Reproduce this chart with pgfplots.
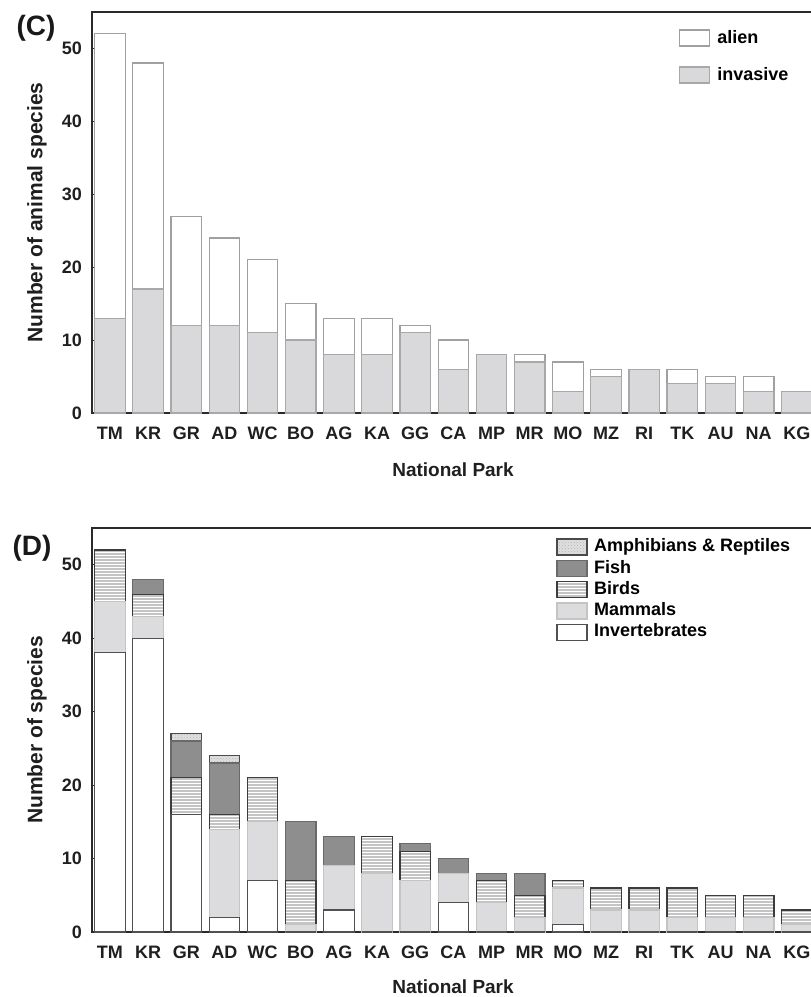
\documentclass[border=0pt]{standalone}
\usepackage{fontspec}
\setmainfont{Liberation Sans}
\usepackage{pgfplots}
\pgfplotsset{compat=1.18}
\usepackage{pgfplotstable}
\usetikzlibrary{patterns}

\definecolor{axisc}{HTML}{2A2A2A}
\definecolor{alienedge}{HTML}{A0A0A0}
\definecolor{invfill}{HTML}{D9D9DC}
\definecolor{invedge}{HTML}{A8A8A8}
\definecolor{invertedge}{HTML}{505050}
\definecolor{mamfill}{HTML}{DCDCDE}
\definecolor{mamedge}{HTML}{C4C4C4}
\definecolor{birdfill}{HTML}{C4C4C4}
\definecolor{birdedge}{HTML}{3C3C3C}
\definecolor{fishfill}{HTML}{8E8E8E}
\definecolor{fishedge}{HTML}{6A6A6A}
\definecolor{amphfill}{HTML}{E0E0E0}
\definecolor{amphedge}{HTML}{4A4A4A}

% Panel C: total alien and invasive animal species
\pgfplotstableread{
idx name alien invasive
0  TM 52 13
1  KR 48 17
2  GR 27 12
3  AD 24 12
4  WC 21 11
5  BO 15 10
6  AG 13 8
7  KA 13 8
8  GG 12 11
9  CA 10 6
10 MP 8 8
11 MR 8 7
12 MO 7 3
13 MZ 6 5
14 RI 6 6
15 TK 6 4
16 AU 5 4
17 NA 5 3
18 KG 3 3
}\tabC

% Panel D: species per group (Invertebrates, Mammals, Birds, Fish, Amphibians & Reptiles)
\pgfplotstableread{
idx name I M B F A
0  TM 38 7 7 0 0
1  KR 40 3 3 2 0
2  GR 16 0 5 5 1
3  AD 2 12 2 7 1
4  WC 7 8 6 0 0
5  BO 0 1 6 8 0
6  AG 3 6 0 4 0
7  KA 0 8 5 0 0
8  GG 0 7 4 1 0
9  CA 4 4 0 2 0
10 MP 0 4 3 1 0
11 MR 0 2 3 3 0
12 MO 1 5 1 0 0
13 MZ 0 3 3 0 0
14 RI 0 3 3 0 0
15 TK 0 2 4 0 0
16 AU 0 2 3 0 0
17 NA 0 2 3 0 0
18 KG 0 1 2 0 0
}\tabD

\pgfplotsset{
  panel/.style={
    scale only axis,
    width=722pt,
    xmin=-0.47, xmax=18.45,
    ymin=0, ymax=55,
    ytick={0,10,20,30,40,50},
    xtick={0,...,18},
    xticklabels={TM,KR,GR,AD,WC,BO,AG,KA,GG,CA,MP,MR,MO,MZ,RI,TK,AU,NA,KG},
    xtick pos=bottom, ytick pos=left,
    tick align=inside,
    major tick length=5pt,
    tick style={line width=1pt, color=axisc},
    axis line style={line width=1.3pt, color=axisc},
    /pgf/number format/assume math mode=true,
    tick label style={font=\bfseries\fontsize{18}{20}\selectfont, text=black!88, inner sep=0pt},
    xticklabel style={anchor=north, yshift=-14pt},
    yticklabel style={anchor=east, xshift=-10pt},
    legend cell align=left,
    legend image code/.code={\draw[##1] (0pt,-8pt) rectangle (30pt,8pt);},
    clip=false,
  },
  bars/.style={ybar, bar width=0.8, bar shift=0pt, line width=1.2pt},
}

\begin{document}
\begin{tikzpicture}
\useasboundingbox (-92pt,-65pt) rectangle (719pt,932pt);

% ---------------- Panel C ----------------
\begin{axis}[panel,
  at={(0pt,519pt)}, anchor=south west,
  height=401pt,
  ylabel={Number of animal species},
  xlabel={National Park},
  every axis y label/.style={at={(axis description cs:-0.0762,0.5)}, rotate=90, anchor=center,
    font=\bfseries\fontsize{21}{24}\selectfont, text=black!88},
  every axis x label/.style={at={(axis description cs:0.5,-0.141)}, anchor=center,
    font=\bfseries\fontsize{19}{22}\selectfont, text=black!88},
  legend style={at={(rel axis cs:0.813,0.958)}, anchor=north west, draw=none, fill=none,
    font=\bfseries\fontsize{18}{20}\selectfont, row sep=19pt, inner sep=0pt,
    nodes={inner sep=1pt, text height=13pt, text depth=3pt},
    /tikz/every even column/.append style={column sep=0pt}},
]
\addplot[bars, fill=white, draw=alienedge] table[x=idx, y=alien] {\tabC};
\addlegendentry{\hspace{6pt}alien}
\addplot[bars, fill=invfill, draw=invedge] table[x=idx, y=invasive] {\tabC};
\addlegendentry{\hspace{6pt}invasive}
\end{axis}
\node[font=\bfseries\fontsize{28}{30}\selectfont, text=black!90] at (-56pt,904pt) {(C)};

% ---------------- Panel D ----------------
\begin{axis}[panel,
  at={(0pt,0pt)}, anchor=south west,
  height=404pt,
  ylabel={Number of species},
  xlabel={National Park},
  every axis y label/.style={at={(axis description cs:-0.0762,0.5)}, rotate=90, anchor=center,
    font=\bfseries\fontsize{21}{24}\selectfont, text=black!88},
  every axis x label/.style={at={(axis description cs:0.5,-0.136)}, anchor=center,
    font=\bfseries\fontsize{19}{22}\selectfont, text=black!88},
  legend style={at={(rel axis cs:0.643,0.975)}, anchor=north west, draw=none, fill=none,
    font=\bfseries\fontsize{18}{20}\selectfont, row sep=3.8pt, inner sep=0pt,
    nodes={inner sep=0.5pt, text height=13pt, text depth=3.5pt},
    /tikz/every even column/.append style={column sep=0pt}},
]
% drawn back to front: cumulative heights from the group counts
\addplot[bars, fill=amphfill, draw=amphedge,
  postaction={pattern=crosshatch dots, pattern color=black!30}]
  table[x=idx, y expr=\thisrow{I}+\thisrow{M}+\thisrow{B}+\thisrow{F}+\thisrow{A}] {\tabD};
\addlegendentry{\hspace{6pt}Amphibians \& Reptiles}
\addplot[bars, fill=fishfill, draw=fishedge]
  table[x=idx, y expr=\thisrow{I}+\thisrow{M}+\thisrow{B}+\thisrow{F}] {\tabD};
\addlegendentry{\hspace{6pt}Fish}
\addplot[bars, fill=birdfill, draw=birdedge,
  postaction={pattern=horizontal lines, pattern color=white}]
  table[x=idx, y expr=\thisrow{I}+\thisrow{M}+\thisrow{B}] {\tabD};
\addlegendentry{\hspace{6pt}Birds}
\addplot[bars, fill=mamfill, draw=mamedge]
  table[x=idx, y expr=\thisrow{I}+\thisrow{M}] {\tabD};
\addlegendentry{\hspace{6pt}Mammals}
\addplot[bars, fill=white, draw=invertedge]
  table[x=idx, y=I] {\tabD};
\addlegendentry{\hspace{6pt}Invertebrates}
\end{axis}
\node[font=\bfseries\fontsize{28}{30}\selectfont, text=black!90] at (-60pt,384pt) {(D)};
\end{tikzpicture}
\end{document}
